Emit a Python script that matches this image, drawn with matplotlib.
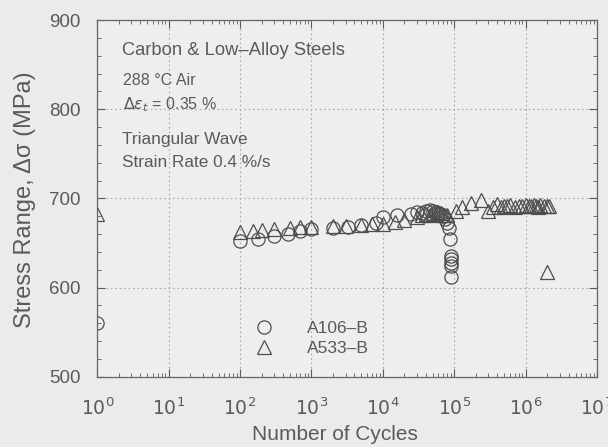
import matplotlib
matplotlib.use("Agg")
import matplotlib.pyplot as plt
from matplotlib.ticker import LogLocator, MultipleLocator, FixedLocator

plt.rcParams['font.family'] = ['Liberation Sans', 'DejaVu Sans']

# A106-B (circles)
a106_n = [1, 100, 178, 295, 470, 700, 1000, 2000, 3200, 5000, 8000, 1.0e4, 1.6e4,
          2.5e4, 3.0e4, 3.5e4, 4.0e4, 4.5e4, 5.0e4, 5.5e4, 6.0e4, 6.5e4, 7.0e4,
          7.5e4, 8.0e4, 8.5e4, 8.8e4, 9.0e4, 9.0e4, 9.0e4, 9.0e4, 9.0e4]
a106_s = [560, 652, 655, 658, 660, 663, 666, 667, 668, 670, 673, 679, 682,
          683, 685, 684, 686, 687, 686, 685, 684, 683, 680,
          677, 673, 667, 655, 636, 632, 628, 624, 612]

# A533-B (triangles)
a533_n = [1, 100, 150, 200, 300, 500, 700, 1000, 2000, 3000, 5000, 7000, 1.0e4,
          1.5e4, 2.0e4, 3.0e4, 3.5e4, 4.0e4, 4.5e4, 5.0e4, 5.5e4, 6.0e4, 6.5e4,
          7.0e4, 8.0e4, 1.05e5, 1.3e5, 1.7e5, 2.4e5, 3.0e5, 3.5e5, 4.0e5, 4.5e5,
          5.0e5, 5.5e5, 6.0e5, 7.0e5, 8.0e5, 9.0e5, 1.0e6, 1.1e6, 1.2e6, 1.3e6,
          1.4e6, 1.5e6, 1.6e6, 1.8e6, 2.0e6, 2.1e6, 2.0e6]
a533_s = [683, 662, 664, 665, 666, 667, 668, 668, 669, 669, 670, 671, 671,
          674, 676, 679, 681, 683, 682, 684, 683, 685, 684,
          682, 681, 686, 690, 695, 698, 686, 690, 694, 690,
          692, 691, 693, 690, 692, 691, 693, 692, 691, 693,
          692, 690, 693, 692, 691, 692, 618]

x_ticks = [1, 10, 100, 1e3, 1e4, 1e5, 1e6, 1e7]
x_ticklabels = [r'$10^{%d}$' % i for i in range(8)]
y_ticks = [500, 600, 700, 800, 900]

text_col = '#5a5a5a'
mark_col = '#4e4e4e'

fig = plt.figure(figsize=(6.08, 4.47), dpi=100, facecolor='#ebebe9')
ax = fig.add_axes([0.160, 0.157, 0.822, 0.798])
ax.set_facecolor('#eeeeec')

ax.plot(a106_n, a106_s, linestyle='none', marker='o', markersize=9.5,
        markerfacecolor='none', markeredgecolor=mark_col, markeredgewidth=0.9,
        label='A106–B')
ax.plot(a533_n, a533_s, linestyle='none', marker='^', markersize=9.5,
        markerfacecolor='none', markeredgecolor=mark_col, markeredgewidth=0.9,
        label='A533–B')

ax.set_xscale('log')
ax.set_xlim(1, 1e7)
ax.set_ylim(500, 900)
ax.xaxis.set_major_locator(FixedLocator(x_ticks))
ax.set_xticklabels(x_ticklabels)
ax.xaxis.set_minor_locator(LogLocator(base=10, subs=range(2, 10), numticks=20))
ax.yaxis.set_major_locator(FixedLocator(y_ticks))
ax.yaxis.set_minor_locator(MultipleLocator(20))

ax.grid(True, which='major', linestyle=(0, (1.5, 2.5)), color='#a8a8a8', linewidth=0.8)
ax.tick_params(which='both', direction='in', top=True, right=True, colors=text_col,
               labelcolor=text_col, labelsize=13.5)
ax.tick_params(which='major', length=6, width=0.8)
ax.tick_params(which='minor', length=3, width=0.6)
ax.tick_params(axis='x', which='major', pad=15)
ax.tick_params(axis='y', which='major', pad=12)
for sp in ax.spines.values():
    sp.set_color('#666666')
    sp.set_linewidth(0.9)

ax.set_xlabel('Number of Cycles', fontsize=15, color=text_col)
ax.xaxis.set_label_coords(0.475, -0.135)
ax.set_ylabel('Stress Range, Δσ (MPa)', fontsize=17, color=text_col)
ax.yaxis.set_label_coords(-0.122, 0.497)

ax.text(0.05, 0.916, 'Carbon & Low–Alloy Steels', transform=ax.transAxes,
        fontsize=13.2, color=text_col, va='center')
ax.text(0.052, 0.832, '288 °C Air', transform=ax.transAxes,
        fontsize=11.5, color=text_col, va='center')
ax.text(0.052, 0.762, r'$\Delta\varepsilon_t$ = 0.35 %', transform=ax.transAxes,
        fontsize=11.5, color=text_col, va='center')
ax.text(0.05, 0.664, 'Triangular Wave', transform=ax.transAxes,
        fontsize=12.4, color=text_col, va='center')
ax.text(0.05, 0.602, 'Strain Rate 0.4 %/s', transform=ax.transAxes,
        fontsize=12.4, color=text_col, va='center')

leg = ax.legend(loc='lower left', bbox_to_anchor=(0.298, 0.058), frameon=False,
                fontsize=12.5, labelcolor=text_col, handlelength=2.0,
                handletextpad=1.5, labelspacing=0.3, borderpad=0,
                borderaxespad=0)

fig.savefig('out.png', dpi=100, facecolor=fig.get_facecolor())
